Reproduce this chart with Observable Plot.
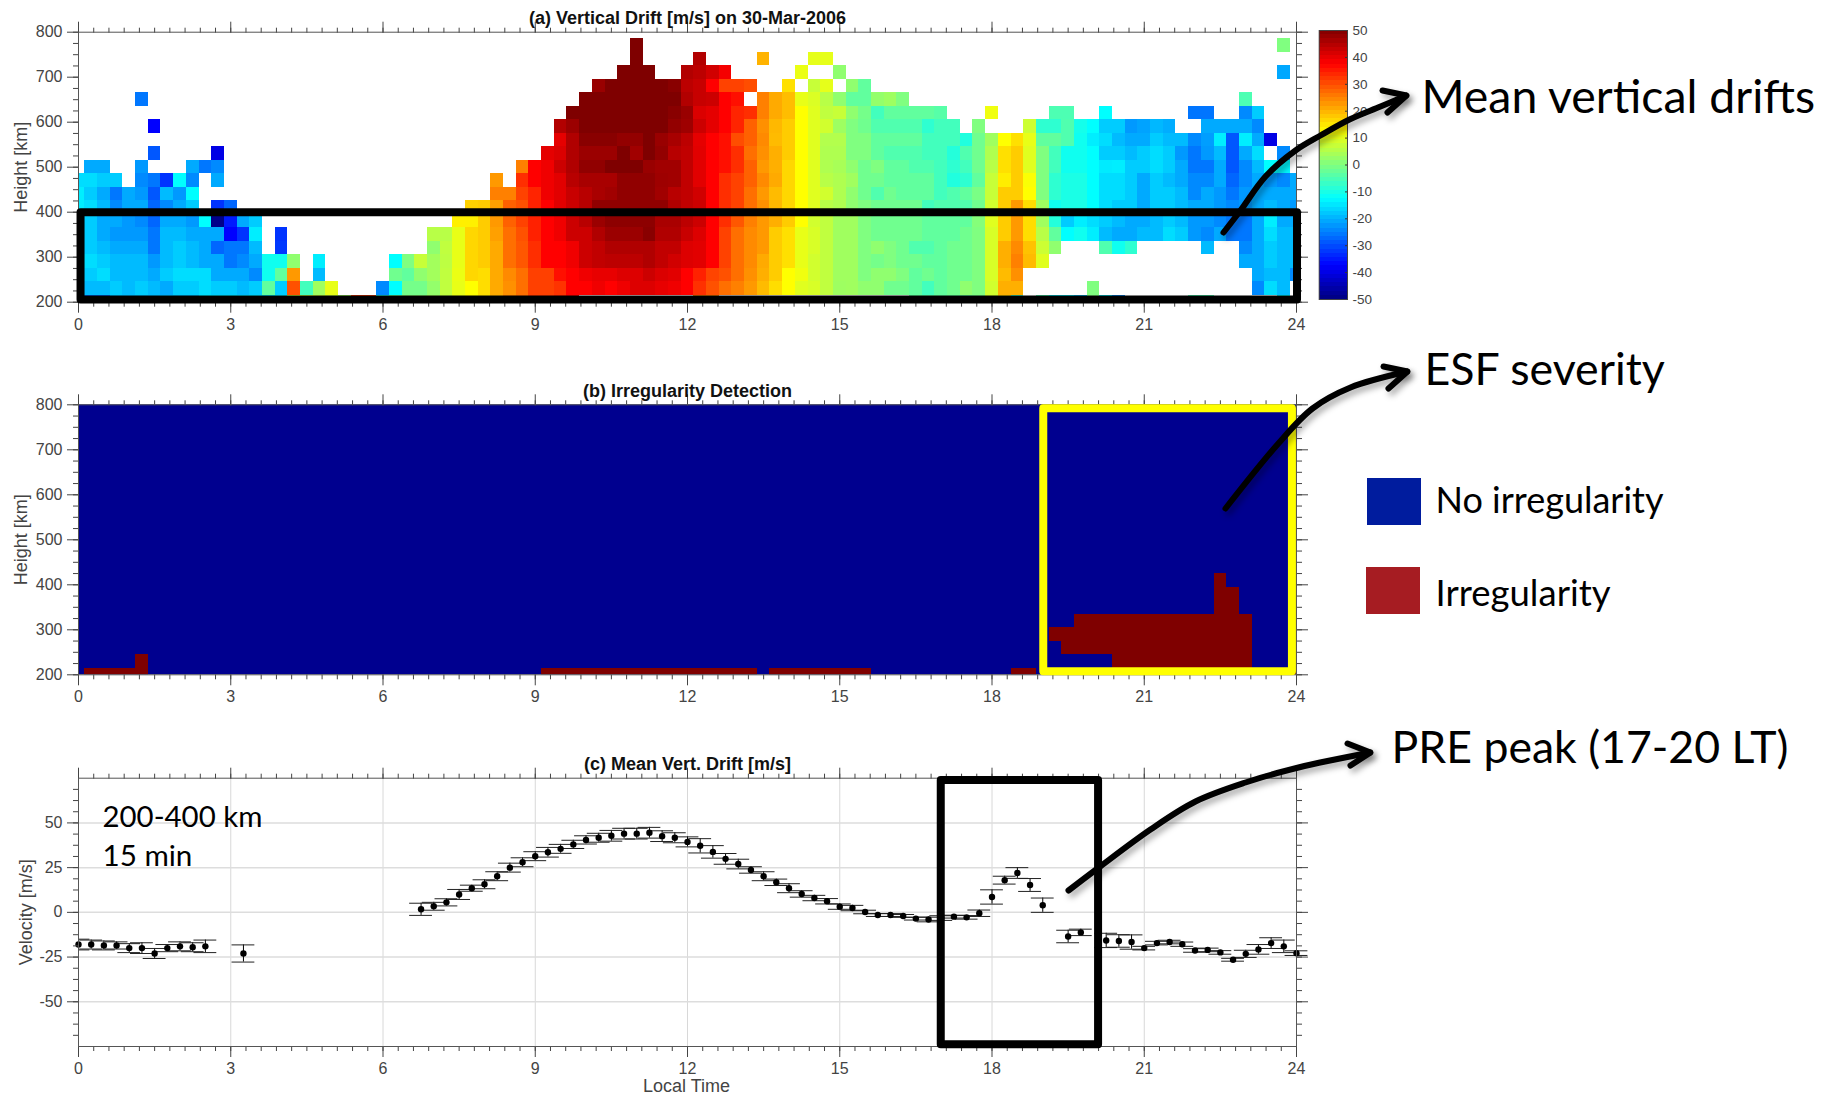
<!DOCTYPE html>
<html><head><meta charset="utf-8">
<style>
html,body{margin:0;padding:0;background:#fff;overflow:hidden}
#page{position:relative;width:1821px;height:1096px}
#page svg{position:absolute;left:0;max-width:none;background:transparent}
</style>
<script src="https://cdn.jsdelivr.net/npm/d3@7"></script>
<script src="https://cdn.jsdelivr.net/npm/@observablehq/plot@0.6"></script>
</head><body><div id="page"></div>
<script>
// ---------- (a) Vertical drift, rows by height [km]: [first 15-min bin index, [m/s ...]] ----------
const h770=[[44,[50]],[95,[0]]];
const h740=[[44,[50]],[49,[45]],[54,[20]],[58,[10,10]]];
const h710=[[43,[50,50,50]],[48,[45,44,42,38.5]],[57,[10.5]],[60,[1.6]],[95,[-21]]];
const h680=[[41,[47.5,50,50,50,50,50,49,44,43,37.5,31,31,30]],[56,[15.5]],[58,[7,10]],[61,[1.6,-3]]];
const h650=[[5,[-25.8]],[40,[50,50,50,50,50,50,50,50,45,43,42.5,37.5,36]],[54,[25,20.8,19,10.2,9,5.5,1.6,-3,-3,2,3,0]],[92,[-5]]];
const h620=[[39,[50,50,50,50,50,50,50,50,49,47.5,41,40,37.5,34,33,25,20.8,19,12.5,9.5,6.3,7,1.6,-1,-6,-3,-3,-3,-3,-4]],[72,[11]],[77,[-5,-5]],[81,[-12.5]],[88,[-26,-26]],[92,[-24,-17.5]]];
const h590=[[6,[-37.5]],[38,[45,47.3,50,50,50,50,50,50,50,48,47,42.5,40,37.5,34,28,23.4,19.5,17.5,12.5,9.5,8,3,0,-1.5,-4.7,-4.7,-4.7,-4.7,-8,-6,-6]],[71,[0]],[75,[7.5,-8,-8,-4.7,-10.5,-12.5,-17.5,-17.5,-22.5,-21.5,-19.5,-20.5]],[89,[-20.8,-20.8,-20.8,-20.8,-24]]];
const h560=[[38,[40,45.2,49,49,49,48,48,50,47.5,46,44,40,37.5,36,30,28,24,19.2,17.5,12.5,9.5,5,5,0,0,-3,-3,-3,-3,-6,-6,-6,-9.4,-1.5,3.2,12.5,15.5,10.2,-3,-3,-4.7,-11,-14.2,-15.8,-19.2,-20.8,-20.8,-17.5,-19.2,-19.2,-24,-22,-14.2,-29,-14.2,-20.8,-40]]];
const h530=[[6,[-29]],[11,[-40]],[37,[40,41,45.2,47.3,47.3,47.3,50,46.7,50,48,44.5,43.6,40.3,37.5,36,33,26.6,23.4,20.3,17.5,12.5,9.5,4.7,4.7,0,0,-3,-4.7,-4.7,-4.7,-6,-6,-9,-4.7,-1.5,4.7,15.5,17.5,9.5,0,-6,-11,-11,-12.5,-17.5,-17.5,-19.2,-17.5,-15.8,-17.5,-22.5,-25.8,-22.5,-19.2,-29,-20.8,-15.8]],[95,[-24]]];
const h500=[[1,[-20.8,-20.8]],[5,[-22.5]],[9,[-20.8,-25.8,-24]],[35,[25,37.5,39,42.5,45.2,48.2,48.2,50,50,50,47.5,46.7,46.7,43.6,40.3,37.5,36,33,28,22.5,20.3,16.4,12.5,9.5,4.7,4,1.6,-1.5,0,-3,-3,-4.7,-4.7,-6,-8,-6,-1.5,5.5,15.5,17.5,9.5,0,-6,-11,-11,-12.5,-14.5,-14.2,-17.5,-17.5,-15.8,-17.5,-20.8,-25.8,-25.8,-20.8,-29,-24,-19.2,-12.5,-13]]];
const h470=[[0,[-15.8,-15.8,-17.5,-17.5,null,-24,-25.8,-32.5,-12.5,-24,null,-20.8]],[33,[22.5,null,33,37.5,39,40.3,44.4,46,46,46,48.2,48.2,48.2,47,46.7,43.6,40.3,37.5,33,31,28,24,20.8,16.4,12.5,9.5,5.5,4.7,3.2,-1.5,-1.5,-3,-3,-3,-3,-6,-9.4,-8,-3,7,14.2,17.5,12,0,-8,-10,-10,-12.5,-15.8,-15.8,-17.5,-20.8,-17.5,-19.2,-20.8,-24,-24,-20.8,-27.5,-24,-20.8,-22.5,-24,-20.8]]];
const h440=[[0,[-14.2,-17.5,-20.8,-25.8,-20.8,-22.5,-29,-19.2,-22.5,-12.5]],[33,[25,25,31,34,39,40.3,42.9,44.4,45.9,46.7,48.2,48.2,48.2,46.7,44.4,43.6,42,37.5,33,31,26.6,22.5,19.2,16.4,12.5,9.5,8,4.7,1.6,-1.5,-4.7,-1.5,-3,-3,-3,-6,-4.7,-3,-0.5,7,17.5,17.5,12.5,0,-8,-10,-10,-12.5,-15.8,-15.8,-17.5,-20.8,-17.5,-17.5,-19.2,-24,-20.8,-22.5,-25.8,-22.5,-20.8,-20.8,-20.8,-20.8]]];
const h410=[[0,[-14.2,-15.8,-19.2,-24,-20.8,-20.8,-27.5,-24,-20.8,-17.5,null,-32.5,-27.5]],[31,[17,17.5,21.8,28,29.6,34.3,37.5,40.3,42.5,44.4,48.2,48.2,48.2,48.2,48.2,48.2,45.2,43.6,42.5,37.5,33,31,26.6,23.4,19.5,16.4,12.5,9.5,5.5,4.7,1.6,0,-1.5,-1.5,-1.5,-1.5,-6,-4.7,-4.7,-4.7,-1.5,8,17.5,22.5,15.8,3.2,-11,-10,-10,-12.5,-15.8,-17.5,-17.5,-20.8,-17.5,-17.5,-19.2,-20.8,-20.8,-22.5,-24,-22.5,-20.8,-19.2,-20.8,-22.5]]];
const h380=[[0,[-15.8,-17.5,-20.8,-20.8,-22.5,-24,-27.5,-20.8,-20.8,-22.5,-12.5,-49,-35,-20.8,-17.5]],[30,[14,14,17.5,22.5,28,31,34.3,37.5,39,42.5,44.4,47.3,48.6,48.6,48.6,48.6,45.9,45.9,44,42.5,37.5,33,29,25,22.5,20.3,17.5,12.5,8,6.3,3.2,3.2,0,-1.5,-1.5,-1.5,-1.5,-3,-3,-3,-3,0.5,9.5,17.5,22.5,15.8,3.2,-9,-17.5,-14.2,-15.8,-17.5,-19.2,-20.8,-20.8,-19.2,-17.5,-19.2,-22.5,-22.5,-24,-25.8,-25.8,-20.8,-14.2,-20.8,-20.8]]];
const h350=[[0,[-17.5,-17.5,-20.8,-22.5,-22.5,-22.5,-25.8,-19.2,-19.2,-20.8,-20.8,-20.8,-37.5,-32.5,-14.2,null,-32.5]],[28,[5.5,5.5,10.2,16.4,17.5,21.8,26.6,29.6,34.3,37.5,39,42.5,42.5,45.2,47.3,47.3,47.3,49,45.2,45.2,42.9,40.8,37.5,31,26.6,24,22.5,17.5,15.5,10.2,8.7,6.3,3.2,3.2,0,-1.5,-1.5,-1.5,-1.5,-3,-3,-3,-1.5,0,8.7,17.5,22.5,15.8,5.5,-3,-12.5,-11,-14.2,-19.2,-20.8,-20.8,-19.2,-19.2,-15.8,-17.5,-22.5,-24,-20.8,-25.8,-25.8,-20.8,-15.8,-19.2,-19.2]]];
const h320=[[0,[-15.8,-17.5,-19.2,-20.8,-20.8,-20.8,-25.8,-19.2,-17.5,-19.2,-20.8,-27.5,-25.8,-25.8,-19.2,null,-32]],[28,[1.6,6.3,10.2,16.4,17.5,20.8,26.6,29,33,37.5,37.5,39,42.5,43.6,45.2,45.2,45.2,45.2,43.6,43.6,40.8,40.3,37.5,31,26.6,24,22.5,17.5,15.5,10.2,8.7,6.3,3.2,3.2,0,1.6,0,-1.5,-4.7,-4.7,-3,-1.5,-1.5,0,8.7,20.3,24,18.5,7.5,1.6]],[81,[-4.7,-11,-8]],[89,[-19.2]],[92,[-24,-20.8,-17.5,-19.2,-19.2]]];
const h290=[[0,[-17.5,-15.8,-17.5,-19.2,-19.2,-19.2,-22.5,-19.2,-17.5,-19.2,-20.8,-20.8,-25.8,-24,-20.8,-11,-11,1.6,null,-14.2]],[25,[-12.5,0,7,3.5,6,10.2,16.4,17.5,20.8,26.6,29,33,37.5,37.5,39,42.5,43.6,44,44,44,45.2,43.6,42,40.8,40.3,37.5,31,26.6,24,20.8,17.5,15.5,10.2,8,6.3,3.2,3.2,0,-1,0,-1.5,-1.5,-3,-3,-1.5,-1.5,0,8.7,20.3,25,19.2,9.5]],[92,[-20.8,-20.8,-17.5,-19.2,-19.2]]];
const h260=[[0,[-17.5,-17.5,-15.8,-19.2,-19.2,-19.2,-20.8,-17.5,-15.8,-15.8,-15.8,-20.8,-20.8,-20.8,-24,-11,-3,22.5,null,-19.2]],[25,[-1.5,-3,1.6,3.5,6.3,10.5,16.4,15.8,20.8,24,26.6,31.2,31.2,36,37.5,39,39.7,39.7,40.8,40.8,42.5,41,40.3,37.5,34.3,30.8,29.6,26.6,23.4,20.3,17.5,12.5,11,8,6.3,3.2,3.2,0,1.6,1.6,0,-3,-1.5,-3,-1.5,-1.5,0,8.7,19.2,23.4]],[93,[-20.8,-19.2,-19.2,-24]]];
const h230=[[0,[-19.2,-19.2,-19.2,-17.5,-19.2,-17.5,-19.2,-20.8,-17.5,-17.5,-15.8,-17.5,-17.5,-19.2,-17.5,-3,-17.5,29.6,-6,3.2,10.2]],[24,[-24,-12.5,-1,-1,2,6.3,10.2,12.5,15.8,20.8,23.4,26.6,31.2,31.2,32.5,37.5,37.5,39,37.5,39,40.8,40.8,39.7,39,37.5,32.8,29.6,26.6,25,22.5,19.2,15.8,12.5,9.5,8.7,6.3,3,3.2,1.6,1.6,-1.5,-1.5,-3,-6,-3,-1.5,1.6,0,8,20.3,20.3]],[80,[0]],[93,[-24,-15.8,-19.2]]];
const h200=[[1,[-27,-27,-19,-19,-19,-19,-19,-19,-19,-14.5,-14.5,-14.5,-14.5,-14.5,-14.5,-14.5,7,7,7,7,3,32,32,-10,-2,1,1,3,6,10,12.5,15,20,25,27,32,32,34,37]],[49,[25,25]],[66,[-3,-3,-3,-3,-3,-1,8,17.5,-8]],[76,[-5,-14,-14,-19,0,-14,-24]],[88,[-5,-5]],[95,[-12.5]]];
const driftRows=[[200,h200],[230,h230],[260,h260],[290,h290],[320,h320],[350,h350],[380,h380],[410,h410],[440,h440],[470,h470],[500,h500],[530,h530],[560,h560],[590,h590],[620,h620],[650,h650],[680,h680],[710,h710],[740,h740],[770,h770]];

// ---------- (b) Irregularity cells: [height km, first bin, last bin] ----------
const irregularity=[[200,1,5],[230,5,5],[200,37,53],[200,55,62],[200,74,75],[200,82,96],[230,82,92],[260,78,92],[290,77,92],[320,79,92],[350,90,91],[380,90,91],[410,90,90]];

// ---------- (c) Mean vertical drift, 200-400 km, 15 min ----------
const meanBins=[0,1,2,3,4,5,6,7,8,9,10,13,27,28,29,30,31,32,33,34,35,36,37,38,39,40,41,42,43,44,45,46,47,48,49,50,51,52,53,54,55,56,57,58,59,60,61,62,63,64,65,66,67,68,69,70,71,72,73,74,75,76,78,79,81,82,83,84,85,86,87,88,89,90,91,92,93,94,95,96];
const meanDrift=[-18,-18,-18.5,-18.5,-20,-20,-23,-20,-19,-19.5,-19,-23,1.7,3.4,5.6,10,13.5,15.7,20.2,25,28,31.4,33.6,35.5,38,40.5,41.7,42.8,44,44,44.5,42.6,41.7,39.4,37.2,33.8,29.9,27,23.7,20.2,16.8,13.5,10.3,8,6.2,3.2,2.4,0.2,-1.5,-1.5,-2,-3.5,-4,-3.2,-2.4,-2.8,-0.5,8.6,18,22,15.3,4,-13.5,-11.2,-15.7,-16,-16.6,-20,-17.2,-16.6,-17.8,-21.3,-21,-22.4,-26.5,-23.2,-20.7,-17.2,-19,-22.8];
const meanErr=[3,2.5,2.5,2,2.5,3,2.8,2,2.5,2.5,3.5,4.8,3.4,2.2,2,2.8,1.7,2.5,2.5,2.5,2.5,2.5,2.7,2.5,2.3,2.3,2.5,3,3,3,3,3,2.8,2.8,4,3.5,3,2.7,1.8,2.5,1.8,2.5,1.8,1.5,1.5,1.5,1.5,1,0.8,0.8,0.8,0.8,1.3,1.3,0.8,1,1.8,4,2.2,3,3.6,4,3.5,1.8,4,3.5,4,1,1,1,1.2,1,1,1,0.8,2,2.7,3,3.5,1.3];

// ---------- labels and annotations ----------
const hourTicks=[0,3,6,9,12,15,18,21,24];
const heightTicks=[200,300,400,500,600,700,800];
const velocityTicks=[-50,-25,0,25,50];
const colorbarTicks=[-50,-40,-30,-20,-10,0,10,20,30,40,50];
const jetStops=[-50,-37.5,-12.5,12.5,37.5,50];
const jetColors=["#00007f","#0000ff","#00ffff","#ffff00","#ff0000","#7f0000"];
const arrowDrifts=[[1223,232],[1240,210],[1265,176],[1295,150],[1320,135],[1349,119],[1380,106],[1406,95]];
const arrowDriftsHead=[[1382,90],[1406,95],[1387,112]];
const arrowESF=[[1225,508],[1277,444],[1312,408],[1350,387],[1407,371]];
const arrowESFHead=[[1383,366],[1407,371],[1388,388]];
const arrowPRE=[[1068,890],[1097,868],[1150,829],[1195,801],[1245,782],[1298,767],[1370,752]];
const arrowPREHead=[[1347,743],[1370,752],[1350,765]];
const bigLabels=[
 {t:"Mean vertical drifts",x:1421,y:112,s:46.4},
 {t:"ESF severity",x:1424,y:384,s:44.7},
 {t:"No irregularity",x:1435,y:512,s:36},
 {t:"Irregularity",x:1435,y:605,s:36.5},
 {t:"PRE peak (17-20 LT)",x:1391,y:762,s:44.6},
 {t:"200-400 km",x:102,y:826,s:29.4},
 {t:"15 min",x:102,y:865,s:29.6}];
const legendSwatches=[{x1:1367,x2:1421,y1:478,y2:525,c:"#001c9e"},{x1:1366,x2:1420,y1:567,y2:614,c:"#a61c22"}];

const cells=driftRows.flatMap(([h,segs])=>segs.flatMap(([from,vals])=>vals.map((v,i)=>({lt:(from+i)*0.25,h,v})).filter(d=>d.v!==null)));
const irrCells=irregularity.map(([h,a,b])=>({h,x1:(a-0.5)*0.25,x2:(b+0.5)*0.25}));
const meanTable=meanBins.map((b,i)=>({lt:b*0.25,v:meanDrift[i],e:meanErr[i]}));

const FONT="'Liberation Sans',Arial,sans-serif", INK="#444";
const W=1821,L=78,R=W-1296;
const hourMinor=d3.range(0,24.001,0.3);
const jet={type:"linear",domain:jetStops,range:jetColors,interpolate:"rgb",clamp:true};

function frameAxes(yMajor,yMinor,yFmt){
  const opt={tickFormat:()=>"" ,label:null,color:INK};
  return [
    Plot.axisX({anchor:"top",ticks:hourMinor,tickSize:5,...opt}),
    Plot.axisX({anchor:"top",ticks:hourTicks,tickSize:11,...opt}),
    Plot.axisX({anchor:"bottom",ticks:hourMinor,tickSize:5,...opt}),
    Plot.axisX({anchor:"bottom",ticks:hourTicks,tickSize:11,tickPadding:5,label:null,color:INK,fontSize:16,tickFormat:d=>d}),
    Plot.axisY({anchor:"right",ticks:yMinor,tickSize:5,...opt}),
    Plot.axisY({anchor:"right",ticks:yMajor,tickSize:11,...opt}),
    Plot.axisY({anchor:"left",ticks:yMinor,tickSize:5,...opt}),
    Plot.axisY({anchor:"left",ticks:yMajor,tickSize:11,tickPadding:5,label:null,color:INK,fontSize:16,tickFormat:yFmt}),
    Plot.frame({stroke:"#555"})
  ];
}
const textStyle={fontFamily:FONT,background:"transparent",color:INK,fontSize:"16px"};
function title(t,x,y,dy){return Plot.text([t],{x:()=>x,y:()=>y,dy,fontWeight:"bold",fontSize:18,fill:"#111",text:d=>d,lineAnchor:"bottom"});}
function yLabel(t,xPx,yVal){return Plot.text([t],{frameAnchor:"left",dx:xPx-L,y:()=>yVal,rotate:-90,fontSize:18,fill:INK,text:d=>d,textAnchor:"middle"});}
function place(svg,top){svg.style.top=top+"px";document.getElementById("page").append(svg);}

const heightMinor=d3.range(200,800.1,25);

// panel (a)
place(Plot.plot({width:W,height:340,marginTop:31.7,marginBottom:38.3,marginLeft:L,marginRight:R,
  x:{domain:[0,24]},y:{domain:[200,800]},color:jet,style:textStyle,
  marks:[
    Plot.rect(cells,{x1:d=>d.lt-0.125,x2:d=>d.lt+0.125,y1:d=>d.h-15,y2:d=>d.h+15,fill:"v",clip:true,shapeRendering:"crispEdges"}),
    ...frameAxes(heightTicks,heightMinor,d=>d),
    title("(a) Vertical Drift [m/s] on 30-Mar-2006",12,800,-8),
    yLabel("Height [km]",21,500),
    Plot.rect([{x1:0.05,x2:24.02,y1:205,y2:399}],{x1:"x1",x2:"x2",y1:"y1",y2:"y2",stroke:"#000",strokeWidth:8,fill:"none",strokeLinejoin:"round"})
  ]}),0);

// colour bar
const cbLevels=d3.range(64).map(i=>({a:-50+i*100/64,b:-50+(i+1)*100/64}));
place(Plot.plot({width:W,height:340,marginTop:30,marginBottom:41,marginLeft:1318.7,marginRight:W-1347,
  x:{domain:[0,1],axis:null},y:{domain:[-50,50]},color:jet,style:{...textStyle,fontSize:"13px"},
  marks:[
    Plot.rect(cbLevels,{x1:()=>0,x2:()=>1,y1:"a",y2:"b",fill:d=>(d.a+d.b)/2,shapeRendering:"crispEdges"}),
    Plot.ruleY(colorbarTicks,{x1:()=>0.93,x2:()=>1,stroke:"#333"}),
    Plot.axisY({anchor:"right",ticks:colorbarTicks,tickSize:0,tickPadding:5,label:null,color:INK,fontSize:13.5,tickFormat:d=>d}),
    Plot.frame({stroke:"#444"})
  ]}),0);

// panel (b)
place(Plot.plot({width:W,height:380,marginTop:64.3,marginBottom:45.7,marginLeft:L,marginRight:R,
  x:{domain:[0,24]},y:{domain:[200,800]},style:textStyle,
  marks:[
    Plot.rect([{x1:0,x2:24,y1:200,y2:800}],{x1:"x1",x2:"x2",y1:"y1",y2:"y2",fill:"#00008f"}),
    Plot.rect(irrCells,{x1:"x1",x2:"x2",y1:d=>d.h-15,y2:d=>d.h+15,fill:"#7f0000",clip:true,shapeRendering:"crispEdges"}),
    ...frameAxes(heightTicks,heightMinor,d=>d),
    title("(b) Irregularity Detection",12,800,-8),
    yLabel("Height [km]",21,500),
    Plot.rect([{x1:19.02,x2:23.92,y1:207,y2:791}],{x1:"x1",x2:"x2",y1:"y1",y2:"y2",stroke:"#ffff00",strokeWidth:8,fill:"none",strokeLinejoin:"round"})
  ]}),340);

// panel (c)
const velMinor=d3.range(-75,75.1,6.25).filter(v=>Math.abs(v)<75);
const capHalf=0.225;
place(Plot.plot({width:W,height:396,marginTop:77.7,marginBottom:50,marginLeft:L,marginRight:R,
  x:{domain:[0,24]},y:{domain:[-75,75]},style:textStyle,
  marks:[
    Plot.gridX(hourTicks,{stroke:"#d8d8d8",strokeOpacity:1}),
    Plot.gridY(velocityTicks,{stroke:"#dddddd",strokeOpacity:1,strokeWidth:1.5}),
    Plot.ruleX(meanTable,{x:"lt",y1:d=>d.v-d.e,y2:d=>d.v+d.e,stroke:"#000",strokeWidth:1}),
    Plot.ruleY(meanTable,{y:d=>d.v-d.e,x1:d=>Math.max(0,d.lt-capHalf),x2:d=>d.lt+capHalf,stroke:"#222",strokeWidth:1}),
    Plot.ruleY(meanTable,{y:d=>d.v+d.e,x1:d=>Math.max(0,d.lt-capHalf),x2:d=>d.lt+capHalf,stroke:"#222",strokeWidth:1}),
    Plot.dot(meanTable,{x:"lt",y:"v",r:3.2,fill:"#000",stroke:"none"}),
    ...frameAxes(velocityTicks,velMinor,d=>d),
    title("(c) Mean Vert. Drift [m/s]",12,75,-8),
    yLabel("Velocity [m/s]",26,0),
    Plot.text(["Local Time"],{x:()=>11.98,y:()=>-75,dy:40,fontSize:18,fill:INK,text:d=>d}),
    Plot.rect([{x1:17,x2:20.1,y1:-74,y2:73.7}],{x1:"x1",x2:"x2",y1:"y1",y2:"y2",stroke:"#000",strokeWidth:8,fill:"none",strokeLinejoin:"round"})
  ]}),700);

// overlay annotations (page coordinates)
const shadow="drop-shadow(3px 4px 3px rgba(0,0,0,0.35))";
const arrow=(pts,head)=>[
  Plot.line(pts,{x:d=>d[0],y:d=>d[1],curve:"catmull-rom",stroke:"#000",strokeWidth:6,imageFilter:shadow}),
  Plot.line(head,{x:d=>d[0],y:d=>d[1],stroke:"#000",strokeWidth:6,strokeLinecap:"round",strokeLinejoin:"miter",imageFilter:shadow})
];
place(Plot.plot({width:W,height:1096,margin:0,x:{domain:[0,W],range:[0,W],axis:null},y:{domain:[0,1096],range:[0,1096],axis:null},
  style:{background:"transparent",fontFamily:"Lato,'Noto Sans',sans-serif"},
  marks:[
    Plot.rect(legendSwatches,{x1:"x1",x2:"x2",y1:"y1",y2:"y2",fill:"c"}),
    ...arrow(arrowDrifts,arrowDriftsHead),...arrow(arrowESF,arrowESFHead),...arrow(arrowPRE,arrowPREHead),
    Plot.text(bigLabels,{x:"x",y:"y",text:"t",fontSize:"s",textAnchor:"start",lineAnchor:"bottom",fill:"#000"})
  ]}),0);
</script></body></html>
